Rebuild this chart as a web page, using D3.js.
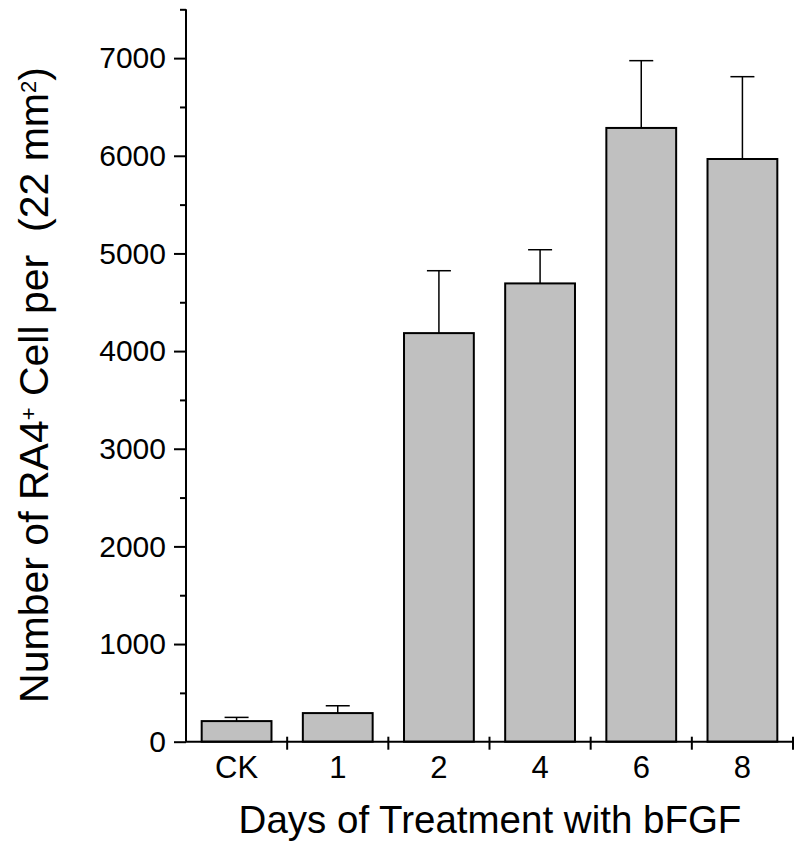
<!DOCTYPE html>
<html>
<head>
<meta charset="utf-8">
<title>RA4+ cells vs days of bFGF</title>
<script src="https://cdn.jsdelivr.net/npm/d3@7"></script>
<style>
  body { margin: 0; background: #fff; }
  text { font-family: "Liberation Sans", Arial, sans-serif; fill: #000; }
</style>
</head>
<body>
<svg id="chart"></svg>
<script>
// data
var categories = ["CK", "1", "2", "4", "6", "8"];
var means = [211, 293, 4184, 4693, 6285, 5967];
var errTops = [249, 368, 4823, 5038, 6974, 6810];
var majorTicks = [0, 1000, 2000, 3000, 4000, 5000, 6000, 7000];
var minorTicks = [500, 1500, 2500, 3500, 4500, 5500, 6500, 7500];

var width = 800, height = 849;
var svg = d3.select("#chart").attr("width", width).attr("height", height);

var x = d3.scaleBand().domain(categories).range([186, 793]).paddingInner(0.31).paddingOuter(0.155);
var y = d3.scaleLinear().domain([0, 7500]).range([741.7, 9.3]);

// bars
svg.append("g").selectAll("rect")
    .data(categories)
    .enter()
    .append("rect")
    .attr("x", function(d) { return x(d); })
    .attr("width", x.bandwidth())
    .attr("y", function(d, i) { return y(means[i]); })
    .attr("height", function(d, i) { return y(0) - y(means[i]); })
    .attr("fill", "#c0c0c0")
    .attr("stroke", "#000")
    .attr("stroke-width", 2);

// error bars (upper only)
var err = svg.append("g").attr("stroke", "#000").attr("stroke-width", 1.5);
categories.forEach(function(c, i) {
    var cx = x(c) + x.bandwidth() / 2;
    err.append("line")
        .attr("x1", cx).attr("x2", cx)
        .attr("y1", y(means[i])).attr("y2", y(errTops[i]));
    err.append("line")
        .attr("x1", cx - 12).attr("x2", cx + 12)
        .attr("y1", y(errTops[i])).attr("y2", y(errTops[i]));
});

// y axis
var yAxis = svg.append("g")
    .attr("transform", "translate(186,0)")
    .call(d3.axisLeft(y).tickValues(majorTicks).tickSize(12).tickPadding(8).tickFormat(d3.format("d")));
yAxis.select(".domain").attr("d", "M0," + y(7500) + "V" + y(0));
yAxis.selectAll(".tick line").attr("stroke-width", 2);
yAxis.selectAll("text").style("font-size", "30px").style("font-family", "Liberation Sans, Arial, sans-serif");

var yMinor = svg.append("g")
    .attr("transform", "translate(186,0)")
    .call(d3.axisLeft(y).tickValues(minorTicks).tickSize(6).tickFormat(""));
yMinor.select(".domain").remove();
yMinor.selectAll(".tick line").attr("stroke-width", 2);
svg.selectAll(".domain").attr("stroke-width", 2);

// x axis
var xAxis = svg.append("g")
    .attr("transform", "translate(0," + y(0) + ")")
    .call(d3.axisBottom(x).tickSize(0).tickPadding(14));
xAxis.select(".domain").attr("d", "M186,0H793").attr("stroke-width", 2);
xAxis.selectAll("text").style("font-size", "31px").style("font-family", "Liberation Sans, Arial, sans-serif");

// x ticks at band boundaries
var bounds = categories.slice(1).map(function(c) { return x(c) - x.step() * x.paddingInner() / 2; });
bounds.push(793);
svg.append("g").selectAll("line")
    .data(bounds)
    .enter()
    .append("line")
    .attr("x1", function(d) { return d; })
    .attr("x2", function(d) { return d; })
    .attr("y1", y(0) - 5)
    .attr("y2", y(0) + 8)
    .attr("stroke", "#000")
    .attr("stroke-width", 2);

// axis titles
svg.append("text")
    .attr("x", 490)
    .attr("y", 833)
    .attr("text-anchor", "middle")
    .style("font-size", "38.5px")
    .text("Days of Treatment with bFGF");

var yt = svg.append("text")
    .attr("transform", "translate(48,385) rotate(-90)")
    .attr("text-anchor", "middle")
    .style("font-size", "41px");
yt.append("tspan").text("Number of RA4");
yt.append("tspan").attr("baseline-shift", "super").style("font-size", "22px").text("+");
yt.append("tspan").text(" Cell per \u00a0(22 mm");
yt.append("tspan").attr("baseline-shift", "super").style("font-size", "22px").text("2");
yt.append("tspan").text(")");
</script>
</body>
</html>
